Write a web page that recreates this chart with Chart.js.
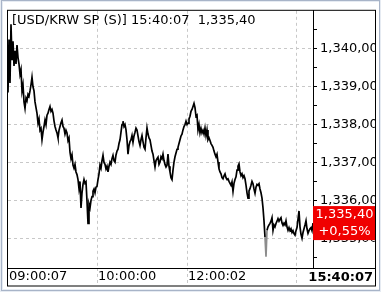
<!DOCTYPE html>
<html lang="en">
<head>
  <meta charset="UTF-8">
  <title>USD/KRW SP</title>
  <script src="https://cdn.jsdelivr.net/npm/chart.js@4.4.1/dist/chart.umd.min.js"></script>
  <style>
    body { margin: 0; background: #fff; }
  </style>
</head>
<body>
  <canvas id="myChart" width="381" height="292"></canvas>

  <script>
    // intraday prices, one per trade-sequence step
    const prices = [
      1338.85, 1340.25, 1339.10, 1340.65, 1339.70, 1340.20, 1339.55, 1339.95, 1339.60, 1340.10,
      1339.77, 1339.60, 1339.33, 1339.45, 1338.89, 1339.05, 1338.60, 1338.43, 1338.70, 1338.63,
      1338.80, 1338.75, 1338.89, 1339.05, 1339.25, 1339.00, 1338.89, 1338.60, 1338.45, 1338.30,
      1338.04, 1338.15, 1337.85, 1337.90, 1337.60, 1337.80, 1337.95, 1338.12, 1338.00, 1338.25,
      1338.30, 1338.40, 1338.48, 1338.35, 1338.40, 1338.30, 1338.10, 1337.95, 1337.86, 1337.78,
      1337.65, 1337.85, 1337.95, 1338.05, 1338.12, 1337.95, 1337.90, 1337.75, 1337.85, 1337.78,
      1337.58, 1337.65, 1337.27, 1337.10, 1337.20, 1336.93, 1336.85, 1336.95, 1336.75, 1336.68,
      1336.55, 1336.31, 1336.50, 1335.80, 1336.20, 1336.42, 1336.55, 1336.45, 1336.49, 1335.98,
      1335.39, 1335.90, 1335.80, 1336.00, 1336.10, 1336.24, 1336.30, 1336.20, 1336.35, 1336.37,
      1336.55, 1336.70, 1336.93, 1336.85, 1337.05, 1337.19, 1337.00, 1336.95, 1336.83, 1336.90,
      1336.75, 1336.90, 1337.01, 1336.95, 1337.10, 1337.19, 1337.05, 1337.01, 1337.20, 1337.30,
      1337.35, 1337.50, 1337.60, 1337.80, 1338.00, 1338.09, 1337.95, 1338.00, 1337.86, 1337.60,
      1337.22, 1337.45, 1337.55, 1337.60, 1337.71, 1337.53, 1337.70, 1337.80, 1337.91, 1337.86,
      1337.70, 1337.55, 1337.45, 1337.60, 1337.71, 1337.55, 1337.40, 1337.35, 1337.65, 1337.91,
      1337.75, 1337.65, 1337.60, 1337.45, 1337.30, 1337.22, 1337.05, 1336.88, 1337.05, 1337.10,
      1337.14, 1336.95, 1337.01, 1337.15, 1337.10, 1337.22, 1337.05, 1336.95, 1336.88, 1336.93,
      1337.22, 1336.90, 1336.75, 1336.60, 1336.55, 1336.80, 1337.01, 1337.15, 1337.25, 1337.35,
      1337.40, 1337.50, 1337.60, 1337.70, 1337.75, 1337.86, 1337.95, 1338.00, 1338.09, 1338.00,
      1338.04, 1338.15, 1338.22, 1338.35, 1338.40, 1338.48, 1338.56, 1338.45, 1338.22, 1338.25,
      1337.86, 1338.00, 1337.78, 1337.90, 1337.78, 1337.85, 1337.75, 1337.91, 1337.71, 1337.86,
      1337.60, 1337.65, 1337.58, 1337.50, 1337.45, 1337.40, 1337.30, 1337.22, 1337.15, 1337.22,
      1337.01, 1336.83, 1336.75, 1336.70, 1336.60, 1336.57, 1336.65, 1336.70, 1336.60, 1336.55,
      1336.57, 1336.50, 1336.45, 1336.40, 1336.49, 1336.24, 1336.45, 1336.55, 1336.62, 1336.80,
      1336.90, 1336.96, 1336.75, 1336.65, 1336.70, 1336.60, 1336.65, 1336.57, 1336.40, 1336.20,
      1336.06, 1336.25, 1336.31, 1336.40, 1336.50, 1336.44, 1336.30, 1336.19, 1336.35, 1336.42,
      1336.40, 1336.44, 1336.30, 1336.20, 1336.06, 1335.80, 1335.46, 1335.03, 1334.51, 1335.21,
      1335.30, 1335.35, 1335.39, 1335.45, 1335.54, 1335.21, 1335.35, 1335.30, 1335.39, 1335.45,
      1335.52, 1335.45, 1335.50, 1335.54, 1335.40, 1335.34, 1335.40, 1335.35, 1335.46, 1335.30,
      1335.21, 1335.28, 1335.20, 1335.25, 1335.15, 1335.20, 1335.12, 1335.08, 1335.20, 1335.28,
      1335.50, 1335.72, 1335.30, 1335.10, 1335.00, 1335.15, 1335.25, 1335.35, 1335.46, 1335.25,
      1335.13, 1335.20, 1335.25, 1335.28, 1335.20, 1335.40
    ];

    const timeTickPos = [0, 89, 179, 288];
    const timeLabels = ['09:00:07', '10:00:00', '12:00:02', ''];
    const priceTicks = [1334.5, 1335, 1335.5, 1336, 1336.5, 1337, 1337.5, 1338, 1338.5, 1339, 1339.5, 1340, 1340.5];

    const titleText = '[USD/KRW SP (S)] 15:40:07  1,335,40';
    const lastTime = '15:40:07';
    const lastPrice = 1335.40;
    const changeText = '+0,55%';

    const FONT = 'DejaVu Sans';

    // 1340 -> "1,340,00"
    function fmt(v) {
      const parts = v.toFixed(2).split('.');
      const intPart = parts[0].replace(/\B(?=(\d{3})+(?!\d))/g, ',');
      return intPart + ',' + parts[1];
    }

    const framePlugin = {
      id: 'frame',
      beforeDraw(chart) {
        const ctx = chart.ctx;
        ctx.save();
        ctx.fillStyle = '#e6ebf2';
        ctx.fillRect(0, 0, chart.width, chart.height);
        ctx.fillStyle = '#ffffff';
        ctx.fillRect(3, 2, chart.width - 5, chart.height - 5);
        ctx.strokeStyle = '#a8b4c8';
        ctx.lineWidth = 1;
        ctx.strokeRect(1.5, 0.5, chart.width - 3, chart.height - 2);
        ctx.restore();
      },
      afterDraw(chart) {
        const ctx = chart.ctx;
        const area = chart.chartArea;
        const yScale = chart.scales.y;
        const xScale = chart.scales.x;
        ctx.save();

        // title inside the plot
        ctx.font = '13px "' + FONT + '"';
        ctx.fillStyle = '#000';
        ctx.textBaseline = 'middle';
        ctx.textAlign = 'left';
        ctx.fillText(titleText, area.left + 4, area.top + 10);

        // last price box
        const yLast = yScale.getPixelForValue(lastPrice);
        const bx = area.right;
        const bw = yScale.right - area.right;
        ctx.fillStyle = '#f00000';
        ctx.fillRect(bx, yLast - 17, bw, 34);
        ctx.fillStyle = '#fff';
        ctx.textAlign = 'center';
        ctx.fillText(fmt(lastPrice), bx + bw / 2, yLast - 8);
        ctx.fillText(changeText, bx + bw / 2, yLast + 9);

        // last time, bold, under the price axis
        ctx.fillStyle = '#000';
        ctx.font = 'bold 13px "' + FONT + '"';
        ctx.textAlign = 'right';
        ctx.fillText(lastTime, yScale.right - 3, (xScale.top + xScale.bottom) / 2 + 1);

        // black frame
        ctx.strokeStyle = '#000';
        ctx.lineWidth = 1;
        ctx.strokeRect(area.left - 0.5, area.top - 0.5, yScale.right - area.left, xScale.bottom - area.top + 0.5);
        ctx.beginPath();
        ctx.moveTo(area.left, xScale.top + 0.5);
        ctx.lineTo(yScale.right, xScale.top + 0.5);
        ctx.stroke();
        ctx.restore();
      }
    };

    const ctx = document.getElementById('myChart').getContext('2d');
    const myChart = new Chart(ctx, {
      type: 'line',
      data: {
        datasets: [{
          data: prices.map((p, i) => ({ x: i, y: p })),
          borderColor: '#000',
          borderWidth: 1.7,
          pointRadius: 0,
          tension: 0,
          segment: {
            borderColor: c => (c.p0.parsed.y < 1334.9 || c.p1.parsed.y < 1334.9) ? '#8c8c8c' : undefined
          }
        }]
      },
      options: {
        responsive: false,
        animation: false,
        layout: { padding: { left: 8, top: 5, right: 5, bottom: 6 } },
        plugins: {
          legend: { display: false },
          tooltip: { enabled: false }
        },
        scales: {
          x: {
            type: 'linear',
            position: 'bottom',
            min: 0,
            max: prices.length - 1,
            afterBuildTicks: s => { s.ticks = timeTickPos.map(v => ({ value: v })); },
            afterFit: s => { s.height = 18; },
            grid: {
              color: c => c.index === 0 ? 'transparent' : '#c8c8c8',
              tickColor: c => c.index === 0 ? 'transparent' : '#c8c8c8',
              tickLength: 17,
              tickBorderDash: [3, 3]
            },
            border: { display: false, dash: [3, 3] },
            ticks: {
              autoSkip: false,
              maxRotation: 0,
              align: 'start',
              padding: -16,
              labelOffset: 1,
              color: '#000',
              font: { family: FONT, size: 13 },
              callback: v => timeLabels[timeTickPos.indexOf(v)]
            }
          },
          y: {
            position: 'right',
            min: 1334.214,
            max: 1341.005,
            afterBuildTicks: s => { s.ticks = priceTicks.map(v => ({ value: v })); },
            afterFit: s => { s.width = 63; },
            grid: {
              color: c => Number.isInteger(c.tick.value) ? '#c8c8c8' : 'transparent',
              tickColor: '#000',
              tickLength: 4
            },
            border: { color: '#000', width: 1, dash: [3, 3] },
            ticks: {
              padding: 3,
              color: '#000',
              font: { family: FONT, size: 13 },
              callback: v => Number.isInteger(v) ? fmt(v) : ''
            }
          }
        }
      },
      plugins: [framePlugin]
    });
  </script>
</body>
</html>
